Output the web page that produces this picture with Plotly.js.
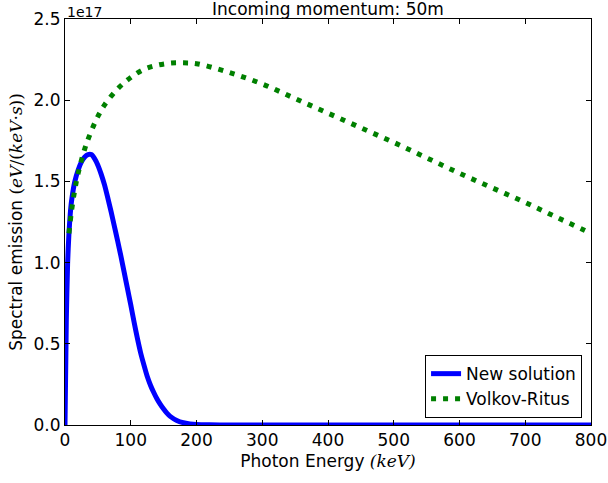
<!DOCTYPE html>
<html>
<head>
<meta charset="utf-8">
<script src="https://cdn.plot.ly/plotly-3.0.1.min.js"></script>
<style>html,body{margin:0;padding:0;background:#fff;}#chart{width:608px;height:483px;}</style>
</head>
<body>
<div id="chart"></div>
<script>
// Photon energy (keV) and spectral emission (units of 1e17 eV/(keV·s))
const newX = [0, 2, 4, 6, 8, 10, 15, 20, 25, 30, 35, 40, 45, 50, 55, 60, 65, 70, 75, 80, 85, 90, 95, 100, 105, 110, 115, 120, 125, 130, 135, 140, 145, 150, 155, 160, 170, 180, 190, 200, 220, 250, 300, 400, 500, 600, 700, 800];
const newY = [0, 0.65, 1.0, 1.18, 1.3, 1.38, 1.5, 1.57, 1.62, 1.65, 1.665, 1.665, 1.64, 1.60, 1.545, 1.48, 1.40, 1.315, 1.225, 1.135, 1.04, 0.94, 0.84, 0.74, 0.635, 0.535, 0.445, 0.37, 0.30, 0.245, 0.20, 0.16, 0.127, 0.098, 0.073, 0.053, 0.028, 0.014, 0.007, 0.003, 0.001, 0, 0, 0, 0, 0, 0, 0];
const vrX = [6, 10, 15, 20, 30, 40, 50, 60, 80, 100, 120, 140, 160, 180, 200, 250, 300, 350, 400, 450, 500, 550, 600, 650, 700, 750, 800];
const vrY = [1.18, 1.32, 1.45, 1.55, 1.70, 1.81, 1.90, 1.97, 2.07, 2.14, 2.19, 2.215, 2.228, 2.23, 2.225, 2.17, 2.10, 2.01, 1.92, 1.83, 1.74, 1.645, 1.55, 1.46, 1.37, 1.275, 1.18];
const xTicks = [0, 100, 200, 300, 400, 500, 600, 700, 800];
const yTicks = [0, 0.5, 1.0, 1.5, 2.0, 2.5];
const yTickText = ['0.0', '0.5', '1.0', '1.5', '2.0', '2.5'];

const font = {family: 'DejaVu Sans, sans-serif', size: 17, color: '#000'};
const mathStyle = 'font-family:DejaVu Serif, serif';

const traces = [
  {x: newX, y: newY, type: 'scatter', mode: 'lines', name: 'New solution',
   line: {color: '#0000ff', width: 5, shape: 'spline', smoothing: 0.6}},
  {x: vrX, y: vrY, type: 'scatter', mode: 'lines', name: 'Volkov-Ritus',
   line: {color: '#008000', width: 5, dash: '5px,7px', shape: 'spline'}}
];

const axisCommon = {
  showline: true, linecolor: '#000', linewidth: 1, mirror: 'ticks',
  ticks: 'inside', ticklen: 5, tickcolor: '#000', tickwidth: 1,
  showgrid: false, zeroline: false, tickfont: font
};

const layout = {
  width: 608, height: 483,
  margin: {l: 65, r: 17, t: 19, b: 58},
  paper_bgcolor: '#fff', plot_bgcolor: '#fff',
  font: font,
  showlegend: true,
  title: {text: 'Incoming momentum: 50m', font: font, x: 0.5, xref: 'paper', y: 0.982, yanchor: 'middle'},
  xaxis: Object.assign({}, axisCommon, {
    range: [0, 800], tickvals: xTicks, ticktext: xTicks.map(String),
    title: {text: 'Photon Energy <span style="' + mathStyle + '"><i>(keV)</i></span>', font: font, standoff: 5}
  }),
  yaxis: Object.assign({}, axisCommon, {
    range: [0, 2.5], tickvals: yTicks, ticktext: yTickText,
    title: {text: 'Spectral emission <span style="' + mathStyle + '">(<i>eV</i>/(<i>keV</i>·<i>s</i>))</span>', font: font, standoff: 6}
  }),
  legend: {
    x: 0.983, y: 0.017, xanchor: 'right', yanchor: 'bottom',
    bgcolor: '#fff', bordercolor: '#000', borderwidth: 1,
    font: font, tracegroupgap: 0, itemwidth: 30
  },
  annotations: [{
    text: '1e17', xref: 'paper', yref: 'paper', x: 0, y: 1, xanchor: 'left', yanchor: 'bottom',
    showarrow: false, font: {family: 'DejaVu Sans, sans-serif', size: 14, color: '#000'}, yshift: -3
  }]
};

Plotly.newPlot('chart', traces, layout, {displayModeBar: false, staticPlot: true});
</script>
</body>
</html>
